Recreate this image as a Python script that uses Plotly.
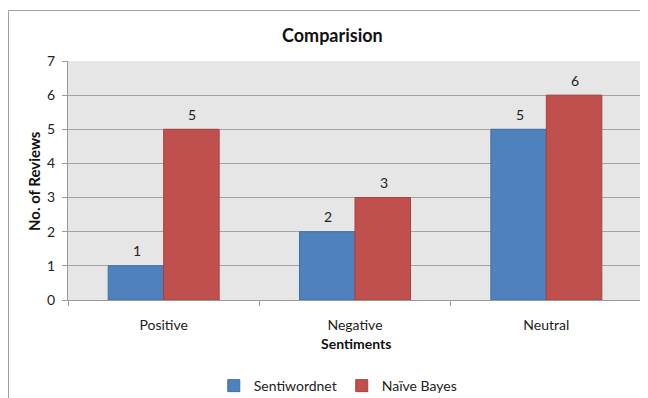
import plotly.graph_objects as go

categories = ["Positive", "Negative", "Neutral"]
sentiwordnet = [1, 2, 5]
naive_bayes = [5, 3, 6]
y_ticks = [0, 1, 2, 3, 4, 5, 6, 7]

FONT = "Lato, Open Sans, sans-serif"

# The page body has an 8px margin, so figure px = screen px - 8.
L, R, T, B = 60, 14, 53, 106
W, H = 648, 398
PW = W - L - R
PH = H - T - B


def px_x(fx):
    return (fx - L) / PW


def px_y(fy):
    return (H - B - fy) / PH


fig = go.Figure()
fig.add_trace(go.Bar(
    name="Sentiwordnet", x=categories, y=sentiwordnet,
    marker=dict(color="#4F81BD", line=dict(color="#3F6FA6", width=1)),
))
fig.add_trace(go.Bar(
    name="Naïve Bayes", x=categories, y=naive_bayes,
    marker=dict(color="#C0504D", line=dict(color="#A5423F", width=1)),
))

bar_w = PW / len(categories) * (1 - 0.42) / 2
annotations = []
for series, shift in ((sentiwordnet, -bar_w / 2), (naive_bayes, bar_w / 2)):
    for c, v in zip(categories, series):
        annotations.append(dict(x=c, y=v, xref="x", yref="y", text=str(v), showarrow=False,
                                xshift=shift + 1, yshift=15, yanchor="middle",
                                font=dict(size=14, color="#222")))

annotations += [
    dict(text="<b>Comparision</b>", xref="paper", yref="paper",
         x=px_x(324), y=px_y(27), xanchor="center", yanchor="middle",
         showarrow=False, font=dict(size=18, color="#111")),
    dict(text="<b>Sentiments</b>", xref="paper", yref="paper",
         x=px_x(348), y=px_y(335), xanchor="center", yanchor="middle",
         showarrow=False, font=dict(size=14, color="#111")),
    dict(text="<b>No. of Reviews</b>", xref="paper", yref="paper", textangle=-90,
         x=px_x(26), y=px_y(173), xanchor="center", yanchor="middle",
         showarrow=False, font=dict(size=15, color="#111")),
]

fig.update_layout(
    width=W, height=H,
    margin=dict(l=L, r=R, t=T, b=B, autoexpand=False),
    paper_bgcolor="white",
    plot_bgcolor="#E6E6E6",
    font=dict(family=FONT, size=14, color="#222"),
    barmode="group",
    bargap=0.42,
    bargroupgap=0,
    showlegend=True,
    legend=dict(orientation="h", x=0.47, xanchor="center", y=-0.36, yanchor="middle",
                font=dict(size=14), itemwidth=30, traceorder="normal"),
    xaxis=dict(
        automargin=False,
        showline=True, linecolor="#9A9A9A", linewidth=1,
        ticks="outside", tickson="boundaries", ticklen=5, tickcolor="#9A9A9A",
        showgrid=False, tickfont=dict(size=14), ticklabelstandoff=12,
    ),
    yaxis=dict(
        automargin=False,
        range=[0, 7], tickvals=y_ticks, ticks="outside", ticklen=5, tickcolor="#9A9A9A",
        showline=True, linecolor="#9A9A9A", linewidth=1,
        showgrid=True, gridcolor="#A3A3A3", gridwidth=1, zeroline=False,
        tickfont=dict(size=14), ticklabelstandoff=4,
    ),
    annotations=annotations,
    shapes=[dict(type="rect", xref="paper", yref="paper",
                 x0=px_x(0.5), x1=1.2, y0=-0.7, y1=px_y(2.5),
                 line=dict(color="#A0A0A0", width=1), fillcolor="rgba(0,0,0,0)", layer="below")],
)

fig.write_html("out.html")
